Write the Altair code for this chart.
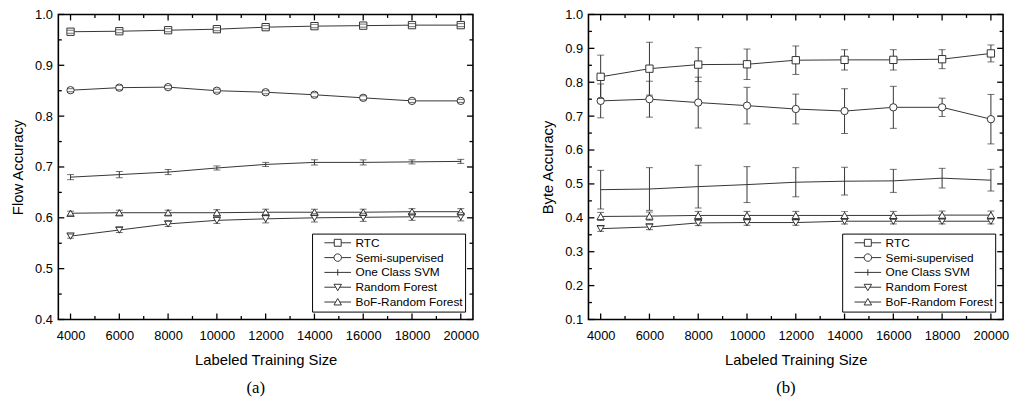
import altair as alt
import pandas as pd

sizes = [4000, 6000, 8000, 10000, 12000, 14000, 16000, 18000, 20000]
series = ["RTC", "Semi-supervised", "One Class SVM", "Random Forest", "BoF-Random Forest"]

x_ticks = [4000, 6000, 8000, 10000, 12000, 14000, 16000, 18000, 20000]
x_minor = [5000, 7000, 9000, 11000, 13000, 15000, 17000, 19000]
flow_y_ticks = [0.4, 0.5, 0.6, 0.7, 0.8, 0.9, 1.0]
flow_y_minor = [0.45, 0.55, 0.65, 0.75, 0.85, 0.95]
byte_y_ticks = [0.1, 0.2, 0.3, 0.4, 0.5, 0.6, 0.7, 0.8, 0.9, 1.0]
byte_y_minor = [0.15, 0.25, 0.35, 0.45, 0.55, 0.65, 0.75, 0.85, 0.95]

# (a) Flow accuracy
flow_rtc = [0.966, 0.967, 0.969, 0.971, 0.975, 0.977, 0.978, 0.979, 0.979]
flow_rtc_err = [0.003, 0.003, 0.003, 0.003, 0.003, 0.003, 0.003, 0.003, 0.003]
flow_semi = [0.851, 0.856, 0.857, 0.850, 0.847, 0.842, 0.836, 0.830, 0.830]
flow_semi_err = [0.003, 0.004, 0.003, 0.003, 0.003, 0.004, 0.004, 0.003, 0.003]
flow_svm = [0.680, 0.685, 0.690, 0.698, 0.705, 0.709, 0.709, 0.710, 0.711]
flow_svm_err = [0.005, 0.006, 0.005, 0.004, 0.004, 0.005, 0.005, 0.004, 0.004]
flow_rf = [0.564, 0.576, 0.588, 0.595, 0.598, 0.600, 0.601, 0.602, 0.602]
flow_rf_err = [0.004, 0.005, 0.005, 0.006, 0.008, 0.008, 0.008, 0.007, 0.008]
flow_bof = [0.609, 0.610, 0.610, 0.610, 0.611, 0.611, 0.611, 0.612, 0.612]
flow_bof_err = [0.004, 0.005, 0.005, 0.006, 0.006, 0.006, 0.006, 0.006, 0.006]

# (b) Byte accuracy
byte_rtc = [0.816, 0.840, 0.852, 0.853, 0.865, 0.866, 0.866, 0.868, 0.885]
byte_rtc_err = [0.064, 0.078, 0.050, 0.045, 0.042, 0.030, 0.030, 0.028, 0.025]
byte_semi = [0.745, 0.750, 0.740, 0.731, 0.721, 0.715, 0.726, 0.726, 0.691]
byte_semi_err = [0.050, 0.053, 0.075, 0.054, 0.044, 0.066, 0.062, 0.027, 0.073]
byte_svm = [0.483, 0.485, 0.492, 0.498, 0.505, 0.508, 0.509, 0.517, 0.511]
byte_svm_err = [0.057, 0.063, 0.063, 0.053, 0.043, 0.041, 0.034, 0.029, 0.032]
byte_rf = [0.368, 0.373, 0.385, 0.386, 0.386, 0.390, 0.390, 0.390, 0.390]
byte_rf_err = [0.008, 0.008, 0.008, 0.008, 0.008, 0.008, 0.008, 0.008, 0.008]
byte_bof = [0.404, 0.405, 0.407, 0.407, 0.407, 0.407, 0.407, 0.408, 0.408]
byte_bof_err = [0.012, 0.012, 0.012, 0.012, 0.012, 0.012, 0.012, 0.012, 0.012]

FONT = "Liberation Sans"
INK = "#333333"

marker_series = ["RTC", "Semi-supervised", "Random Forest", "BoF-Random Forest"]
marker_shapes = ["square", "circle", "triangle-down", "triangle-up"]
legend_paths = [
    "M-1,0H-0.26M0.26,0H1M-0.26,-0.26H0.26V0.26H-0.26Z",
    "M-1,0H-0.28M0.28,0H1M-0.28,0A0.28,0.28 0 1,0 0.28,0A0.28,0.28 0 1,0 -0.28,0",
    "M-1,0H1M0,-0.24V0.24",
    "M-1,0H-0.15M0.15,0H1M-0.28,-0.22H0.28L0,0.26Z",
    "M-1,0H-0.15M0.15,0H1M-0.28,0.22H0.28L0,-0.26Z",
]


def make_df(vals, errs):
    rows = []
    for name, v, e in zip(series, vals, errs):
        for s, a, b in zip(sizes, v, e):
            rows.append({"size": s, "series": name, "value": a, "lo": a - b, "hi": a + b})
    return pd.DataFrame(rows)


def panel(df, ydom, yt, ym, ytitle, tag):
    W, H = 420, 309
    xs = alt.Scale(domain=[3500, 20500], nice=False, zero=False)
    ys = alt.Scale(domain=ydom, nice=False, zero=False)
    xax = alt.Axis(values=x_ticks, format="d", ticks=False, domain=False, grid=False,
                   labelPadding=10, titlePadding=11)
    yax = alt.Axis(values=yt, format=".1f", ticks=False, domain=False, grid=False,
                   labelPadding=6, titlePadding=9)
    xt = "Labeled Training Size"

    def X(f):
        return alt.X(f, scale=xs, axis=xax, title=xt)

    def Y(f):
        return alt.Y(f, scale=ys, axis=yax, title=ytitle)

    base = alt.Chart(df)
    lines = base.mark_line(color=INK, strokeWidth=1).encode(X("size:Q"), Y("value:Q"), detail="series:N")
    bars = base.mark_rule(color=INK, strokeWidth=1).encode(X("size:Q"), Y("lo:Q"), y2="hi:Q")
    markers = base.transform_filter(alt.datum.series != "One Class SVM").mark_point(
        filled=True, fill="white", stroke=INK, strokeWidth=1, size=55, opacity=1).encode(
        X("size:Q"), Y("value:Q"),
        shape=alt.Shape("series:N", scale=alt.Scale(domain=marker_series, range=marker_shapes), legend=None))
    cap_lo = base.mark_tick(orient="horizontal", size=7, thickness=1, color=INK).encode(X("size:Q"), Y("lo:Q"))
    cap_hi = base.mark_tick(orient="horizontal", size=7, thickness=1, color=INK).encode(X("size:Q"), Y("hi:Q"))
    leg = base.mark_point(opacity=0, filled=False, color=INK).encode(
        X("size:Q"), Y("value:Q"),
        shape=alt.Shape("series:N", scale=alt.Scale(domain=series, range=legend_paths),
                        legend=alt.Legend(title=None, orient="bottom-right", offset=8, padding=2,
                                          strokeColor="black", fillColor="white", cornerRadius=0,
                                          symbolSize=729, symbolStrokeWidth=1, symbolStrokeColor=INK,
                                          symbolFillColor="transparent", symbolOpacity=1,
                                          labelFont=FONT, labelFontSize=12, labelColor="black",
                                          labelExpr="datum.label + '\u00a0'",
                                          clipHeight=14.6, rowPadding=0, symbolOffset=10, labelOffset=4)))
    ticks = []
    for vals, ln in ((x_ticks, 6), (x_minor, 3.5)):
        d = alt.Chart(pd.DataFrame({"size": vals}))
        ticks.append(d.mark_rule(color="black", strokeWidth=1.3).encode(X("size:Q"), y=alt.value(H), y2=alt.value(H - ln)))
        ticks.append(d.mark_rule(color="black", strokeWidth=1.3).encode(X("size:Q"), y=alt.value(0), y2=alt.value(ln)))
    for vals, ln in ((yt, 6), (ym, 3.5)):
        d = alt.Chart(pd.DataFrame({"value": vals}))
        ticks.append(d.mark_rule(color="black", strokeWidth=1.3).encode(Y("value:Q"), x=alt.value(0), x2=alt.value(ln)))
        ticks.append(d.mark_rule(color="black", strokeWidth=1.3).encode(Y("value:Q"), x=alt.value(W), x2=alt.value(W - ln)))
    return alt.layer(lines, bars, markers, cap_lo, cap_hi, leg, *ticks).resolve_scale(
        shape="independent").properties(
        width=W, height=H,
        title=alt.TitleParams(tag, orient="bottom", font="Liberation Serif", fontSize=17,
                              fontWeight="normal", color="black", anchor="middle", frame="group",
                              dx=-10, offset=12))


flow_df = make_df([flow_rtc, flow_semi, flow_svm, flow_rf, flow_bof],
                  [flow_rtc_err, flow_semi_err, flow_svm_err, flow_rf_err, flow_bof_err])
byte_df = make_df([byte_rtc, byte_semi, byte_svm, byte_rf, byte_bof],
                  [byte_rtc_err, byte_semi_err, byte_svm_err, byte_rf_err, byte_bof_err])

left = panel(flow_df, [0.4, 1.0], flow_y_ticks, flow_y_minor, "Flow Accuracy", "(a)")
right = panel(byte_df, [0.1, 1.0], byte_y_ticks, byte_y_minor, "Byte Accuracy", "(b)")

chart = alt.hconcat(left, right, spacing=61).properties(
    padding={"left": 2, "top": -3, "right": 0, "bottom": 0}
).configure_view(stroke="black", strokeWidth=1.6).configure_axis(
    labelFont=FONT, labelFontSize=13, labelColor="black",
    titleFont=FONT, titleFontSize=15, titleFontWeight="normal", titleColor="black"
).configure_concat(spacing=61)

chart.save("out.html", embed_options={"renderer": "svg", "actions": False})
